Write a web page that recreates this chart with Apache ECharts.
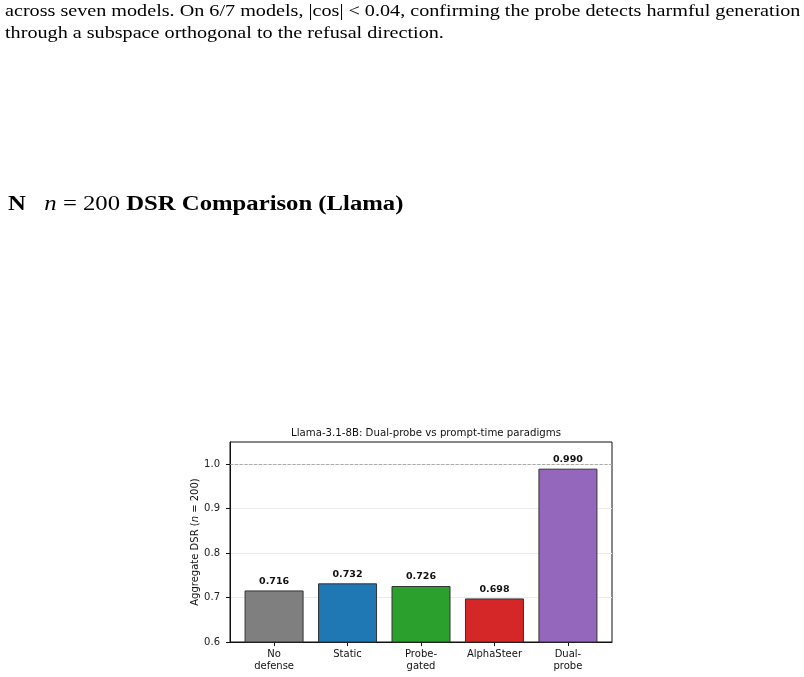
<!DOCTYPE html>
<html>
<head>
<meta charset="utf-8">
<script src="https://cdn.jsdelivr.net/npm/echarts@6/dist/echarts.min.js"></script>
<style>
  html, body { margin: 0; padding: 0; background: #fff; }
  body { width: 804px; height: 677px; position: relative; overflow: hidden; }
  .para { position: absolute; left: 5px; font-family: "Liberation Serif", serif; font-size: 17.5px; color: #000; white-space: nowrap; line-height: 22px; transform: scaleX(1.152); transform-origin: 0 0; }
  .head { position: absolute; left: 8px; top: 191px; font-family: "Liberation Serif", serif; font-size: 20px; line-height: 24px; font-weight: bold; white-space: nowrap; transform: scaleX(1.235); transform-origin: 0 0; }
  .head i { font-weight: normal; }
  #chart { position: absolute; left: 0; top: 0; width: 804px; height: 677px; }
</style>
</head>
<body>
<div id="chart"></div>
<div class="para" style="top:-1px">across seven models. On 6/7 models, |cos| &lt; 0.04, confirming the probe detects harmful generation</div>
<div class="para" style="top:21px">through a subspace orthogonal to the refusal direction.</div>
<div class="head">N&nbsp;&nbsp;&nbsp;<i>n</i> <span style="font-weight:normal">= 200</span> DSR Comparison (Llama)</div>
<script>
// data
const categories = ['No\ndefense', 'Static', 'Probe-\ngated', 'AlphaSteer', 'Dual-\nprobe']
const dsr = [0.716, 0.732, 0.726, 0.698, 0.990]
const barColors = ['#7f7f7f', '#1f77b4', '#2ca02c', '#d62728', '#9467bd']
const yTicks = [0.6, 0.7, 0.8, 0.9, 1.0]

const chart = echarts.init(document.getElementById('chart'))

const options = {
  animation: false,
  title: {
    text: 'Llama-3.1-8B: Dual-probe vs prompt-time paradigms',
    left: 421, top: 423, textAlign: 'center',
    textStyle: { fontFamily: 'DejaVu Sans', fontSize: 10.2, fontWeight: 'normal', color: '#111' }
  },
  grid: {
    left: 230, right: 192, top: 442, bottom: 35,
    show: true, borderColor: '#111', borderWidth: 1
  },
  xAxis: {
    type: 'value', min: -0.6, max: 4.6,
    axisLine: { show: true, onZero: false, lineStyle: { color: '#111' } },
    splitLine: { show: false },
    axisTick: { show: true, length: 4, customValues: [0, 1, 2, 3, 4], lineStyle: { color: '#111' } },
    axisLabel: {
      customValues: [0, 1, 2, 3, 4],
      formatter: v => categories[Math.round(v)],
      fontFamily: 'DejaVu Sans', fontSize: 10, color: '#111', lineHeight: 12, margin: 6
    }
  },
  yAxis: {
    type: 'value', min: 0.6, max: 1.05, interval: 0.1,
    name: 'Aggregate DSR ({i|n} = 200)',
    nameLocation: 'middle', nameGap: 28, nameRotate: 90,
    nameTextStyle: {
      fontFamily: 'DejaVu Sans', fontSize: 10, color: '#111',
      rich: { i: { fontFamily: 'DejaVu Sans', fontStyle: 'italic', fontSize: 10, color: '#111' } }
    },
    axisLine: { show: true, onZero: false, lineStyle: { color: '#111' } },
    axisTick: { show: true, length: 4, customValues: yTicks, lineStyle: { color: '#111' } },
    axisLabel: {
      customValues: yTicks,
      formatter: v => v.toFixed(1),
      fontFamily: 'DejaVu Sans', fontSize: 10, color: '#222', margin: 10
    },
    splitLine: { show: true, lineStyle: { color: '#ebebeb', width: 1 } }
  },
  series: [{
    type: 'bar',
    barWidth: 59,
    data: dsr.map((v, i) => ({
      value: [i, v],
      itemStyle: { color: barColors[i], borderColor: '#333', borderWidth: 1 }
    })),
    label: {
      show: true, position: 'top', distance: 4,
      formatter: p => p.value[1].toFixed(3),
      fontFamily: 'DejaVu Sans', fontSize: 9.5, fontWeight: 'bold', color: '#111'
    },
    markLine: {
      silent: true, symbol: 'none', label: { show: false },
      lineStyle: { color: '#999', type: 'dashed', width: 0.8 },
      data: [{ yAxis: 1.0 }]
    },
    z: 3
  }]
}

chart.setOption(options)
</script>
</body>
</html>
